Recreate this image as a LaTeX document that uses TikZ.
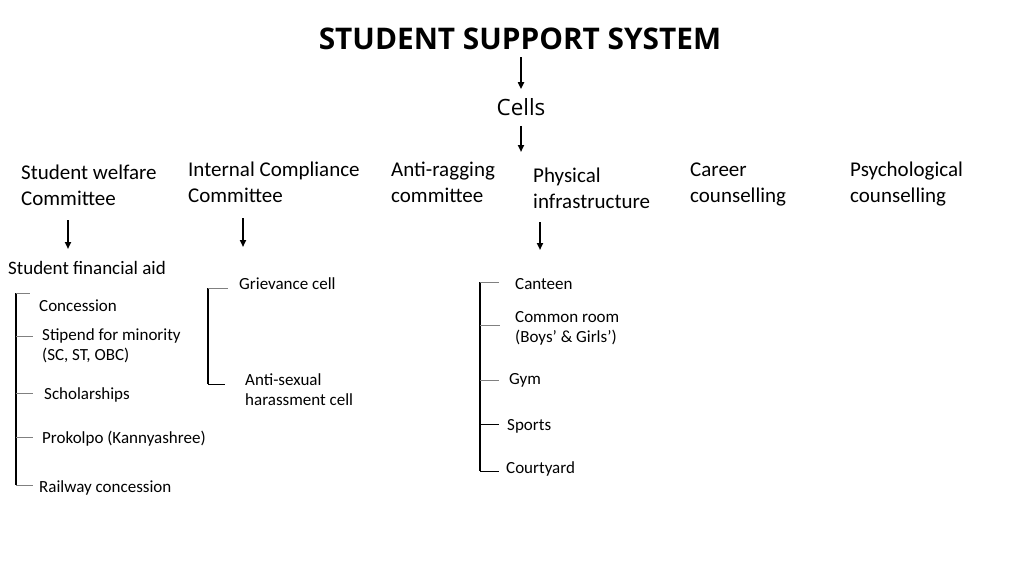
\documentclass[tikz,border=0pt]{standalone}
\usepackage{fontspec}
\setmainfont{Carlito}
\newfontfamily\titlefont{Open Sans}
\usetikzlibrary{arrows.meta,calc}

\tikzset{
	arr/.style={-{Triangle[length=7pt,width=6pt]}, line width=1.7pt},
	head/.style={anchor=west, inner sep=0, align=left, font=\fontsize{21}{26}\selectfont},
	item/.style={anchor=west, inner sep=0, align=left, font=\fontsize{17}{20.5}\selectfont},
	bar/.style={line width=2.8pt},
	tick/.style={gray, line width=1pt},
}

\begin{document}
\begin{tikzpicture}[x=1pt,y=-1pt]
\useasboundingbox[fill=white](0,0)rectangle(1024,575);
\node[font=\titlefont\bfseries\fontsize{29.8}{34}\selectfont, inner sep=0](sss)at(520,39){STUDENT SUPPORT SYSTEM};
\node[font=\titlefont\fontsize{22.4}{26}\selectfont, inner sep=0](cells)at(521,107){Cells};
\coordinate(lvl)at(521,152);
\draw[arr]([yshift=-7pt]cells|-sss.south)to([yshift=9pt]cells.north);
\draw[arr]([yshift=-10pt]cells.south)to(lvl);

\node[head](swc)at(21,185){Student welfare\\Committee};
\node[head](icc)at(188,182){Internal Compliance\\Committee};
\node[head](arc)at(391,182){Anti-ragging\\committee};
\node[head](phy)at(533,188){Physical\\infrastructure};
\node[head](car)at(690,184){Career\\counselling};
\node[head](psy)at(850,184){Psychological\\counselling};

\node[anchor=west, inner sep=0, font=\fontsize{19}{22}\selectfont](sfa)at(8,268){Student financial aid};
\coordinate(w)at(68,249);
\coordinate(c)at(243,247);
\coordinate(p)at(540,250);
\draw[arr](w|-0,220)to(w);
\draw[arr](c|-0,218)to(c);
\draw[arr](p|-0,222)to(p);

% welfare
\node[item](con)at(39,306){Concession};
\node[item](sti)at(42,346){Stipend for minority\\(SC, ST, OBC)};
\node[item](sch)at(44,395){Scholarships};
\node[item](pro)at(42,439){Prokolpo (Kannyashree)};
\node[item](rly)at(39,488){Railway concession};
\coordinate(w1)at(16,293);
\coordinate(w5)at(16,485);
\draw[bar](w1)to(w5);
\draw[tick](w1)--++(14,0)
	(w1|-0,336)--++(17,0)
	(w1|-0,393)--++(17,0)
	(w1|-0,437)--++(17,0)
	(w5)--++(17,0);

% compliance
\node[item](grv)at(239,284){Grievance cell};
\node[item](ash)at(245,389.5){Anti-sexual\\harassment cell};
\coordinate(c1)at(208,288);
\coordinate(c2)at(208,384);
\draw[bar](c1)to(c2);
\draw[tick](c1)--++(20,0);
\draw[line width=1pt](c2)--++(17,0);

% infrastructure
\node[item](can)at(515,284){Canteen};
\node[item](com)at(515,328.5){Common room\\(Boys’ \& Girls’)};
\node[item](gym)at(509,380){Gym};
\node[item](spo)at(507,426){Sports};
\node[item](crt)at(506,469){Courtyard};
\coordinate(p1)at(480,282);
\coordinate(p5)at(480,471);
\draw[bar](p1)to(p5);
\draw[tick](p1)--++(19,0)
	(p1|-0,325)--++(20,0)
	(p1|-0,380)--++(19,0);
\draw[line width=1pt](p1|-0,424)--++(19,0)
	(p5)--++(19,0);
\end{tikzpicture}
\end{document}
